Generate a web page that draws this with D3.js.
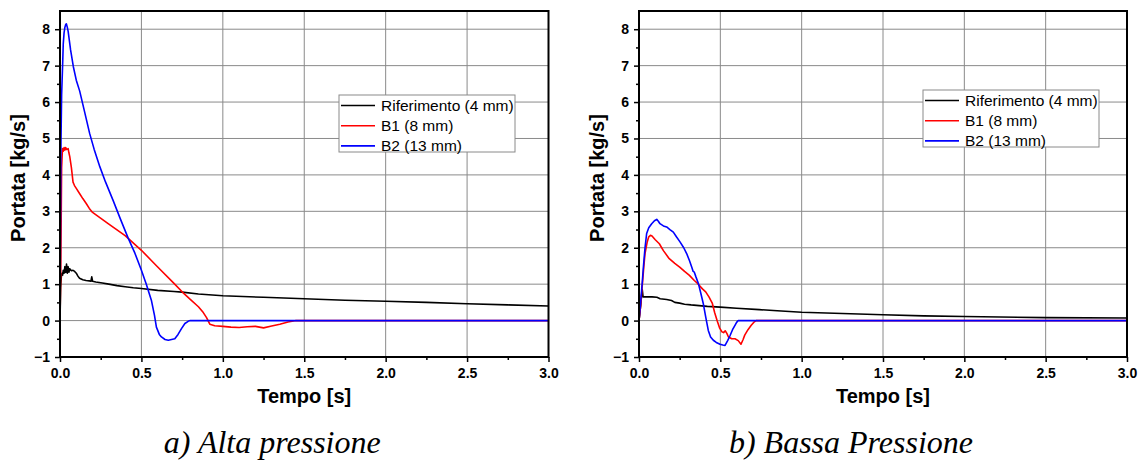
<!DOCTYPE html>
<html><head><meta charset="utf-8">
<script src="https://cdn.jsdelivr.net/npm/d3@7"></script>
<style>body{margin:0;background:#fff}svg{display:block}</style>
</head><body>
<svg id="chart" width="1141" height="462"></svg>
<script>
// ---- Data ----
const seriesNames = ["Riferimento (4 mm)", "B1 (8 mm)", "B2 (13 mm)"];
const seriesColors = ["#000000", "#ff0000", "#0000ff"];
const xTicks = [0.0, 0.5, 1.0, 1.5, 2.0, 2.5, 3.0];
const yTicks = [-1, 0, 1, 2, 3, 4, 5, 6, 7, 8];
const panelTitles = ["a) Alta pressione", "b) Bassa Pressione"];

const altaRif = [[0,0],[0.004,0.9],[0.008,1.2],[0.012,1.3],[0.016,1.25],[0.02,1.38],[0.025,1.3],[0.03,1.48],[0.035,1.32],[0.04,1.55],[0.045,1.3],[0.05,1.48],[0.055,1.33],[0.06,1.42],[0.07,1.37],[0.08,1.38],[0.09,1.35],[0.1,1.3],[0.11,1.22],[0.12,1.16],[0.14,1.12],[0.16,1.1],[0.18,1.09],[0.19,1.08],[0.195,1.2],[0.2,1.08],[0.22,1.06],[0.26,1.03],[0.3,1.0],[0.35,0.96],[0.4,0.93],[0.45,0.9],[0.5,0.88],[0.6,0.83],[0.7,0.8],[0.75,0.78],[0.85,0.73],[1.0,0.68],[1.25,0.64],[1.5,0.6],[1.75,0.56],[2.0,0.53],[2.25,0.5],[2.5,0.46],[2.75,0.43],[3.0,0.40]];
const altaB1 = [[0,0],[0.005,1.5],[0.01,4.2],[0.015,4.72],[0.02,4.65],[0.025,4.75],[0.03,4.68],[0.035,4.75],[0.04,4.7],[0.05,4.72],[0.055,4.6],[0.06,4.5],[0.07,4.2],[0.075,4.0],[0.08,3.8],[0.085,3.75],[0.09,3.7],[0.1,3.63],[0.12,3.49],[0.14,3.35],[0.16,3.22],[0.18,3.08],[0.2,2.97],[0.3,2.65],[0.4,2.33],[0.5,1.93],[0.6,1.47],[0.7,1.02],[0.75,0.79],[0.8,0.58],[0.85,0.38],[0.88,0.22],[0.9,0.08],[0.92,-0.1],[0.95,-0.14],[1.0,-0.16],[1.05,-0.18],[1.1,-0.19],[1.15,-0.17],[1.2,-0.16],[1.25,-0.2],[1.3,-0.15],[1.35,-0.1],[1.4,-0.04],[1.45,0],[3.0,0]];
const altaB2 = [[0,0],[0.003,2.5],[0.006,4.9],[0.01,6.2],[0.016,7.0],[0.02,7.6],[0.025,7.9],[0.03,8.05],[0.035,8.13],[0.039,8.15],[0.045,8.05],[0.05,7.94],[0.065,7.43],[0.082,6.97],[0.1,6.6],[0.121,6.3],[0.15,5.75],[0.182,5.14],[0.21,4.7],[0.245,4.22],[0.28,3.8],[0.326,3.3],[0.37,2.8],[0.418,2.27],[0.46,1.85],[0.5,1.38],[0.53,1.0],[0.561,0.56],[0.58,0.15],[0.592,-0.18],[0.61,-0.38],[0.623,-0.45],[0.645,-0.52],[0.665,-0.54],[0.685,-0.52],[0.705,-0.5],[0.725,-0.38],[0.746,-0.22],[0.767,-0.08],[0.787,-0.02],[0.8,0],[3.0,0]];

const bassaRif = [[0,0],[0.01,0.4],[0.015,0.65],[0.02,0.85],[0.025,0.65],[0.05,0.65],[0.08,0.65],[0.11,0.64],[0.13,0.6],[0.17,0.58],[0.2,0.55],[0.22,0.5],[0.25,0.48],[0.28,0.45],[0.32,0.43],[0.37,0.41],[0.42,0.39],[0.5,0.37],[0.6,0.34],[0.74,0.3],[0.85,0.27],[1.0,0.23],[1.2,0.2],[1.5,0.16],[1.75,0.13],[2.0,0.11],[2.5,0.08],[3.0,0.07]];
const bassaB1 = [[0,0],[0.01,0.4],[0.02,0.95],[0.03,1.5],[0.037,1.84],[0.05,2.15],[0.06,2.3],[0.07,2.34],[0.08,2.32],[0.1,2.22],[0.125,2.11],[0.15,1.92],[0.186,1.7],[0.22,1.57],[0.25,1.47],[0.28,1.35],[0.31,1.24],[0.34,1.1],[0.36,1.02],[0.39,0.87],[0.41,0.79],[0.43,0.65],[0.451,0.47],[0.465,0.22],[0.48,0],[0.495,-0.2],[0.51,-0.31],[0.52,-0.33],[0.53,-0.28],[0.54,-0.35],[0.55,-0.45],[0.57,-0.5],[0.59,-0.5],[0.61,-0.55],[0.627,-0.65],[0.64,-0.52],[0.65,-0.4],[0.67,-0.25],[0.69,-0.13],[0.705,-0.05],[0.72,0],[3.0,0]];
const bassaB2 = [[0,0],[0.01,0.5],[0.02,1.05],[0.027,1.47],[0.037,2.0],[0.047,2.39],[0.06,2.55],[0.078,2.66],[0.095,2.74],[0.109,2.78],[0.12,2.72],[0.129,2.66],[0.15,2.6],[0.17,2.57],[0.19,2.5],[0.211,2.43],[0.23,2.3],[0.252,2.16],[0.275,2.0],[0.293,1.84],[0.31,1.65],[0.324,1.47],[0.333,1.35],[0.34,1.33],[0.35,1.2],[0.365,1.02],[0.38,0.75],[0.395,0.47],[0.41,0.1],[0.426,-0.27],[0.44,-0.45],[0.457,-0.54],[0.475,-0.6],[0.498,-0.65],[0.515,-0.67],[0.529,-0.68],[0.545,-0.55],[0.56,-0.41],[0.575,-0.25],[0.59,-0.13],[0.6,-0.05],[0.61,0],[3.0,0]];

// ---- Drawing ----
const svg = d3.select("#chart");
const panels = [
  {left: 60, right: 548.5, data: [altaRif, altaB1, altaB2], legend: {x: 339, y: 95, w: 176, h: 57}, title: panelTitles[0]},
  {left: 639, right: 1127, data: [bassaRif, bassaB1, bassaB2], legend: {x: 923, y: 90, w: 176, h: 57}, title: panelTitles[1]}
];
const plotTop = 11, plotBottom = 357;
const sans = "'Liberation Sans', Arial, sans-serif";

panels.forEach(p => {
  const x = d3.scaleLinear().domain([0, 3]).range([p.left, p.right]);
  const y = d3.scaleLinear().domain([-1, 8.5]).range([plotBottom, plotTop]);
  const g = svg.append("g");

  // grid
  g.append("g").selectAll("line").data(xTicks.slice(1, -1)).join("line")
    .attr("x1", d => x(d)).attr("x2", d => x(d)).attr("y1", plotTop).attr("y2", plotBottom)
    .attr("stroke", "#8a8a8a").attr("stroke-width", 1);
  g.append("g").selectAll("line").data(yTicks.slice(1)).join("line")
    .attr("x1", p.left).attr("x2", p.right).attr("y1", d => y(d)).attr("y2", d => y(d))
    .attr("stroke", "#8a8a8a").attr("stroke-width", 1);

  // minor ticks
  const xMinor = d3.range(0.25, 3, 0.5);
  const yMinor = d3.range(-0.5, 8.5, 1);
  g.append("g").call(d3.axisBottom(x).tickValues(xMinor).tickSize(3).tickFormat(""))
    .attr("transform", `translate(0,${plotBottom})`).call(a => a.select(".domain").remove())
    .selectAll("line").attr("stroke-width", 1.5);
  g.append("g").call(d3.axisLeft(y).tickValues(yMinor).tickSize(3).tickFormat(""))
    .attr("transform", `translate(${p.left},0)`).call(a => a.select(".domain").remove())
    .selectAll("line").attr("stroke-width", 1.5);

  // major axes
  const xa = g.append("g").attr("transform", `translate(0,${plotBottom})`)
    .call(d3.axisBottom(x).tickValues(xTicks).tickSize(5).tickPadding(6).tickFormat(d3.format(".1f")));
  const ya = g.append("g").attr("transform", `translate(${p.left},0)`)
    .call(d3.axisLeft(y).tickValues(yTicks).tickSize(5).tickPadding(5).tickFormat(d3.format("d")));
  [xa, ya].forEach(a => {
    a.select(".domain").remove();
    a.selectAll("line").attr("stroke-width", 1.5);
    a.selectAll("text").attr("font-family", sans).attr("font-size", 14).attr("font-weight", "bold").attr("fill", "#000");
  });

  // series
  const line = d3.line().x(d => x(d[0])).y(d => y(d[1]));
  const clipId = "clip" + p.left;
  svg.append("clipPath").attr("id", clipId).append("rect")
    .attr("x", p.left).attr("y", plotTop).attr("width", p.right - p.left).attr("height", plotBottom - plotTop);
  const sg = g.append("g").attr("clip-path", `url(#${clipId})`);
  p.data.forEach((s, i) => {
    sg.append("path").datum(s).attr("d", line).attr("fill", "none")
      .attr("stroke", seriesColors[i]).attr("stroke-width", 1.6).attr("stroke-linejoin", "round");
  });

  // frame
  g.append("rect").attr("x", p.left).attr("y", plotTop).attr("width", p.right - p.left).attr("height", plotBottom - plotTop)
    .attr("fill", "none").attr("stroke", "#000").attr("stroke-width", 2);

  // legend
  const L = p.legend;
  const lg = g.append("g");
  lg.append("rect").attr("x", L.x).attr("y", L.y).attr("width", L.w).attr("height", L.h)
    .attr("fill", "#fff").attr("stroke", "#8a8a8a").attr("stroke-width", 1);
  seriesNames.forEach((n, i) => {
    const cy = L.y + 10.5 + i * 20.2;
    lg.append("line").attr("x1", L.x + 2).attr("x2", L.x + 36).attr("y1", cy).attr("y2", cy)
      .attr("stroke", seriesColors[i]).attr("stroke-width", 1.6);
    lg.append("text").attr("x", L.x + 42).attr("y", cy).attr("dy", "0.35em")
      .attr("font-family", sans).attr("font-size", 15.5).text(n);
  });

  // axis titles
  g.append("text").attr("x", (p.left + p.right) / 2).attr("y", 403).attr("text-anchor", "middle")
    .attr("font-family", sans).attr("font-size", 20).attr("font-weight", "bold").text("Tempo [s]");
  g.append("text").attr("transform", `translate(${p.left - 35},178) rotate(-90)`)
    .attr("text-anchor", "middle").attr("font-family", sans).attr("font-size", 20).attr("font-weight", "bold")
    .text("Portata [kg/s]");

  // caption
  g.append("text").attr("x", (p.left + p.right) / 2 - 32).attr("y", 453).attr("text-anchor", "middle")
    .attr("font-family", "'Liberation Serif', 'Times New Roman', serif").attr("font-style", "italic").attr("font-size", 32)
    .text(p.title);
});
</script>
</body></html>
